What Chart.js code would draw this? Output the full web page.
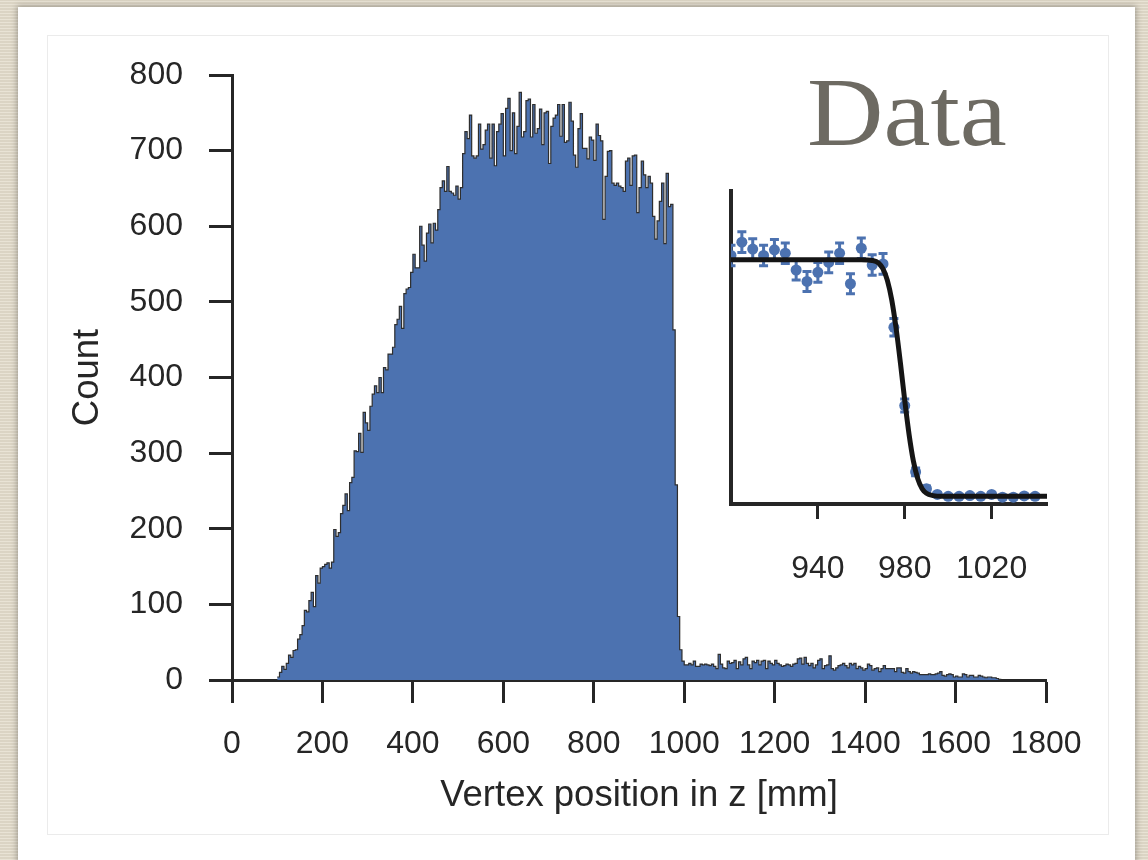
<!DOCTYPE html>
<html>
<head>
<meta charset="utf-8">
<script src="https://cdn.jsdelivr.net/npm/chart.js@4.4.1/dist/chart.umd.min.js"></script>
<style>
  html, body { margin: 0; padding: 0; }
  body {
    width: 1148px; height: 860px; overflow: hidden; position: relative;
    background-color: #e3dccb;
    background-image: repeating-linear-gradient(0deg, rgba(255,255,255,0.2) 0px, rgba(255,255,255,0.2) 1px, rgba(0,0,0,0.035) 1px, rgba(0,0,0,0.035) 3px);
  }
  #card { position: absolute; left: 18px; top: 7px; width: 1117px; height: 900px; background: #fff; box-shadow: 0 0 6px 1px rgba(0,0,0,0.3); }
  #frame { position: absolute; left: 47px; top: 35px; width: 1060px; height: 798px; border: 1px solid #ebebeb; }
  #main { position: absolute; left: 0; top: 0; }
  #inset { position: absolute; left: 600px; top: 150px; }
  #label {
    position: absolute; left: 807px; top: 62px;
    font: 98px/100px "Liberation Serif", "DejaVu Serif", serif; color: #6d6a62;
    transform: scaleX(1.08); transform-origin: left top;
  }
</style>
</head>
<body>
<div id="card"></div>
<div id="frame"></div>
<canvas id="main" width="1148" height="860"></canvas>
<canvas id="inset" width="500" height="470"></canvas>
<div id="label">Data</div>
<script>
// histogram: 5 mm bins starting at 100 mm
const binStart = 100;
const binWidth = 5;

// 100 .. 510 mm
const riseCounts = [4, 10, 18, 14, 22, 33, 30, 39, 40, 54,
    60, 72, 92, 90, 105, 116, 97, 138, 128, 148,
    150, 153, 155, 148, 156, 199, 190, 195, 220, 231,
    246, 224, 261, 268, 303, 302, 326, 301, 354, 340,
    330, 362,
    378, 389, 380, 400, 380, 413, 410, 431, 431, 440,
    470, 477, 494, 465, 511, 517, 519, 539, 563, 545,
    545, 600, 575, 554, 591, 603, 578, 604, 595, 622,
    651, 660, 646, 679, 646, 644, 641, 653, 636, 651,
    696];

// 515 .. 895 mm
const plateauCounts = [725, 716, 747, 693, 690, 693, 735, 702, 708, 727,
    735, 690, 735, 680, 725, 735, 749, 693, 756, 769,
    700, 750, 696, 732, 777, 718, 725, 766, 768, 718,
    761, 723, 729, 755, 708, 750, 752, 683, 732, 743,
    747, 761, 719, 761, 711, 713, 764, 739, 694, 678,
    729, 749, 703, 703, 689, 718, 714, 687, 735, 720,
    713, 609, 666, 699, 700, 657, 654, 657, 653, 651,
    646, 686, 690, 654, 693, 694, 618];

// 900 .. 1040 mm, also shown in the inset
const edgeBins = [900, 905, 910, 915, 920, 925, 930, 935, 940, 945,
    950, 955, 960, 965, 970, 975, 980, 985, 990, 995,
    1000, 1005, 1010, 1015, 1020, 1025, 1030, 1035, 1040];
const edgeCounts = [651, 686, 668, 651, 666, 657, 613, 583, 607, 633,
    657, 577, 670, 626, 629, 463, 258, 84, 40, 25,
    20, 20, 22, 20, 25, 18, 18, 21, 20];
const edgeErrors = [27, 27, 27, 27, 27, 27, 26, 26, 26, 27,
    27, 26, 27, 27, 27, 23, 17, 10, 7, 5,
    5, 5, 5, 5, 5, 5, 5, 5, 5];

// 1045 .. 1695 mm
const tailCounts = [21, 20, 19, 21, 18, 15, 34, 21, 16, 15,
    25, 22, 23, 26, 15, 24, 20, 28, 30, 20,
    15, 25, 23, 26, 20, 25, 26, 15, 25, 22,
    20, 26, 22, 20, 18, 19, 21, 20, 18, 21,
    22, 28, 29, 21, 30, 22, 19, 22, 16, 20,
    26, 28, 15, 19, 20, 32, 15, 13, 16, 19,
    20, 22,
    19, 16, 22, 20, 22, 15, 18, 16, 13, 15,
    21, 19, 13, 15, 16, 11, 15, 19, 15, 15,
    15, 15, 11, 16, 16, 10, 9, 15, 11, 9,
    11, 10, 9, 7, 7, 7, 7, 8, 7, 7,
    8, 9, 11, 6, 5, 7, 8, 7, 4, 5,
    4, 4, 8, 7, 4, 6, 6, 4, 4, 6,
    5, 4, 3, 4, 4, 3, 3, 2, 1];

// fitted edge curve
const fitX = [900, 960, 965, 968, 970, 972, 974, 976, 978, 980, 982, 984, 986, 988, 990, 993, 997, 1045.5];
const fitY = [640, 640, 638, 631, 616, 586, 535, 461, 370, 271, 182, 112, 66, 40, 28, 22, 20, 20];

const xTicks = [0, 200, 400, 600, 800, 1000, 1200, 1400, 1600, 1800];
const yTicks = [0, 100, 200, 300, 400, 500, 600, 700, 800];
const insetTicks = [940, 980, 1020];

const ink = '#262626';
const blue = '#4c72b0';
const family = '"Liberation Sans", Arial, sans-serif';
const plain = (v) => String(v);

const counts = riseCounts.concat(plateauCounts, edgeCounts, tailCounts);
const histPoints = counts.map((c, i) => ({x: binStart + i * binWidth, y: c}));
histPoints.push({x: binStart + counts.length * binWidth, y: 0});

new Chart(document.getElementById('main'), {
    type: 'line',
    data: {
        datasets: [{
            data: histPoints,
            stepped: true,
            fill: 'origin',
            backgroundColor: blue,
            borderColor: '#2e2e2e',
            borderWidth: 1.2,
            pointRadius: 0,
        }],
    },
    options: {
        responsive: false,
        animation: false,
        devicePixelRatio: 1,
        layout: {padding: {left: 0, top: 75, right: 102, bottom: 0}},
        plugins: {legend: {display: false}, tooltip: {enabled: false}},
        scales: {
            x: {
                type: 'linear', min: 0, max: 1800, z: 1,
                afterBuildTicks: (s) => { s.ticks = xTicks.map((v) => ({value: v})); },
                afterFit: (s) => { s.height = 180; },
                grid: {drawOnChartArea: false, tickLength: 23, tickWidth: 3, tickColor: ink},
                border: {width: 3, color: ink},
                ticks: {padding: 22, color: ink, font: {family: family, size: 32}, maxRotation: 0, autoSkip: false, callback: plain},
                title: {display: true, text: 'Vertex position in z [mm]', color: ink, font: {family: family, size: 36.5}, padding: {top: 0, bottom: 42}},
            },
            y: {
                type: 'linear', min: 0, max: 800, z: 1,
                afterBuildTicks: (s) => { s.ticks = yTicks.map((v) => ({value: v})); },
                afterFit: (s) => { s.width = 232; },
                grid: {drawOnChartArea: false, tickLength: 23, tickWidth: 3, tickColor: ink},
                border: {width: 3, color: ink},
                ticks: {padding: 26, color: ink, font: {family: family, size: 32}, autoSkip: false, callback: plain},
                title: {display: true, text: 'Count', color: ink, font: {family: family, size: 36.5}, padding: {top: 66, bottom: 0}},
            },
        },
    },
});

// error bars drawn under the points and the fit line
const errorBars = {
    id: 'errorBars',
    beforeDatasetsDraw(chart) {
        const {ctx, chartArea, scales: {x, y}} = chart;
        ctx.save();
        ctx.beginPath();
        ctx.rect(chartArea.left, chartArea.top, chartArea.width, chartArea.height);
        ctx.clip();
        ctx.strokeStyle = blue;
        ctx.lineWidth = 3;
        edgeBins.forEach((b, i) => {
            const px = x.getPixelForValue(b);
            const top = y.getPixelForValue(edgeCounts[i] + edgeErrors[i]);
            const bot = y.getPixelForValue(edgeCounts[i] - edgeErrors[i]);
            ctx.beginPath();
            ctx.moveTo(px, top); ctx.lineTo(px, bot);
            ctx.moveTo(px - 4.5, top); ctx.lineTo(px + 4.5, top);
            ctx.moveTo(px - 4.5, bot); ctx.lineTo(px + 4.5, bot);
            ctx.stroke();
        });
        ctx.restore();
    },
};

new Chart(document.getElementById('inset'), {
    type: 'line',
    data: {
        datasets: [
            {
                data: fitX.map((x, i) => ({x: x, y: fitY[i]})),
                borderColor: '#151515',
                borderWidth: 5,
                pointRadius: 0,
                cubicInterpolationMode: 'monotone',
                clip: 0,
            },
            {
                data: edgeBins.map((x, i) => ({x: x, y: edgeCounts[i]})),
                showLine: false,
                pointRadius: 5.5,
                pointBackgroundColor: blue,
                pointBorderWidth: 0,
                clip: 0,
            },
        ],
    },
    options: {
        responsive: false,
        animation: false,
        devicePixelRatio: 1,
        layout: {padding: {left: 0, top: 41, right: 53, bottom: 0}},
        plugins: {legend: {display: false}, tooltip: {enabled: false}},
        scales: {
            x: {
                type: 'linear', min: 900, max: 1045.5, z: 1,
                afterBuildTicks: (s) => { s.ticks = insetTicks.map((v) => ({value: v})); },
                afterFit: (s) => { s.height = 116; },
                grid: {drawOnChartArea: false, tickLength: 15, tickWidth: 3, tickColor: ink},
                border: {width: 4, color: ink},
                ticks: {padding: 31, color: ink, font: {family: family, size: 32}, maxRotation: 0, autoSkip: false, callback: plain},
            },
            y: {
                type: 'linear', min: 0, max: 820, z: 1,
                afterFit: (s) => { s.width = 131; },
                grid: {drawOnChartArea: false, drawTicks: false},
                border: {width: 4, color: ink},
                ticks: {display: false},
            },
        },
    },
    plugins: [errorBars],
});
</script>
</body>
</html>
